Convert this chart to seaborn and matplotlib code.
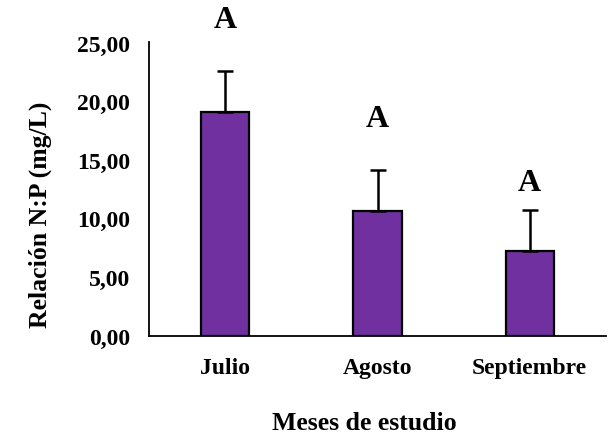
import matplotlib
matplotlib.use("Agg")
import matplotlib.pyplot as plt
import seaborn as sns
import numpy as np
import pandas as pd

# Datos: relación N:P media por mes y su desviación
meses = ["Julio", "Agosto", "Septiembre"]
relacion_np = [19.1, 10.63, 7.22]
desviacion = [3.5, 3.52, 3.5]
letras = ["A", "A", "A"]
pos_letras = [27.0, 18.5, 13.1]
ticks_y = [0, 5, 10, 15, 20, 25]

sns.set_theme(style="white")
plt.rcParams["font.family"] = ["Liberation Serif", "DejaVu Serif"]
plt.rcParams["font.weight"] = "bold"
plt.rcParams["text.color"] = "black"
plt.rcParams["axes.labelcolor"] = "black"
plt.rcParams["xtick.color"] = "black"
plt.rcParams["ytick.color"] = "black"

df = pd.DataFrame({"mes": meses, "valor": relacion_np})

fig = plt.figure(figsize=(6.14, 4.39), dpi=100)
ax = fig.add_axes([0.2432, 0.233, 0.7433, 0.668])

sns.barplot(data=df, x="mes", y="valor", color="#7030A0", saturation=1,
            edgecolor="black", linewidth=1.6, width=0.316, errorbar=None, ax=ax)

x = np.arange(len(meses))
ax.errorbar(x, relacion_np, yerr=[np.zeros(len(meses)), desviacion],
            fmt="none", ecolor="black", elinewidth=1.8, capsize=6, capthick=1.8)

for xi, letra, yi in zip(x, letras, pos_letras):
    ax.text(xi, yi, letra, ha="center", va="center", fontsize=23,
            fontweight="bold", color="black", clip_on=False)

ax.set_xlim(-0.5, 2.5)
ax.set_ylim(0, 25)
ax.set_yticks(ticks_y)
ax.set_yticklabels([f"{v:.2f}".replace(".", ",") for v in ticks_y])
ax.tick_params(axis="both", length=0, labelsize=17)
ax.tick_params(axis="y", pad=14)
ax.tick_params(axis="x", pad=15)
for lab in ax.get_xticklabels() + ax.get_yticklabels():
    lab.set_fontweight("bold")

for s in ["top", "right"]:
    ax.spines[s].set_visible(False)
for s in ["left", "bottom"]:
    ax.spines[s].set_color("black")
    ax.spines[s].set_linewidth(1.3)

ax.set_xlabel("Meses de estudio", fontsize=18.5, fontweight="bold")
ax.set_ylabel("Relación N:P (mg/L)", fontsize=18.5, fontweight="bold")
ax.xaxis.set_label_coords(0.47, -0.295)
ax.xaxis.label.set_va("center")
ax.yaxis.set_label_coords(-0.24, 0.415)
ax.yaxis.label.set_va("center")

fig.savefig("out.png", dpi=100)
